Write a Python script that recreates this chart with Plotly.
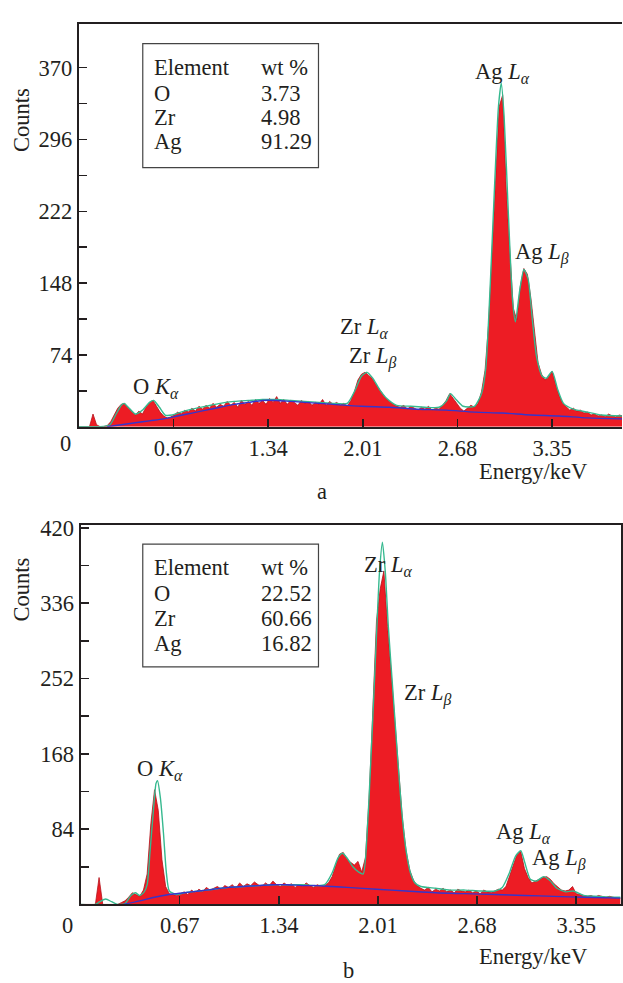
import plotly.graph_objects as go

# ---------------- data ----------------
E_STEP = 0.025  # keV per channel

# panel a: spectrum counts, channel i -> energy i*E_STEP
counts_a = [0, 0, 0, 0, 13, 2, 0, 0, 1, 5, 12, 19, 23, 24, 19, 15, 12, 16, 13, 20,
            25, 27, 21, 15, 11, 9, 10, 12, 15, 13, 17, 15, 19, 16, 21, 18, 22, 19, 24, 20,
            23, 21, 26, 22, 25, 20, 27, 23, 26, 22, 28, 24, 27, 23, 29, 25, 31, 24, 28, 23,
            27, 25, 22, 27, 24, 26, 22, 25, 23, 28, 22, 26, 23, 25, 22, 24, 21, 27, 36, 48,
            54, 56, 53, 50, 44, 39, 33, 29, 26, 23, 21, 20, 22, 18, 21, 19, 17, 20, 18, 21,
            17, 19, 18, 22, 27, 34, 29, 23, 19, 16, 19, 22, 20, 24, 36, 58, 105, 178, 252, 330,
            342, 245, 182, 122, 110, 145, 163, 157, 132, 97, 66, 54, 48, 52, 57, 44, 32, 24, 20, 17,
            19, 16, 17, 14, 15, 12, 13, 11, 12, 10, 13, 11, 10, 12, 11]

fit_a_E = [0.00, 0.15, 0.22, 0.26, 0.30, 0.32, 0.35, 0.40, 0.45, 0.50, 0.53, 0.57, 0.61, 0.66,
           0.70, 0.80, 0.90, 1.00, 1.10, 1.20, 1.30, 1.40, 1.50, 1.60, 1.70, 1.80, 1.90, 1.95,
           2.00, 2.04, 2.08, 2.13, 2.18, 2.25, 2.35, 2.45, 2.55, 2.60, 2.63, 2.67, 2.72, 2.80,
           2.85, 2.88, 2.91, 2.94, 2.97, 2.99, 3.01, 3.04, 3.07, 3.09, 3.12, 3.15, 3.18, 3.21,
           3.24, 3.28, 3.31, 3.35, 3.39, 3.43, 3.50, 3.60, 3.70, 3.85]
fit_a_C = [0, 0, 2, 12, 22, 24, 20, 13, 17, 25, 27, 20, 12, 12,
           14, 18, 21, 24, 26, 27, 28, 28, 27, 26, 25, 24, 24, 36,
           52, 56, 50, 38, 29, 22, 21, 20, 20, 26, 34, 28, 21, 21,
           34, 60, 140, 240, 330, 354, 320, 220, 130, 108, 140, 162, 152, 110,
           72, 52, 50, 57, 38, 24, 18, 15, 12, 11]

bg_a_E = [0.20, 0.30, 0.40, 0.50, 0.60, 0.70, 0.80, 0.90, 1.00, 1.10, 1.20, 1.30, 1.40, 1.50,
          1.60, 1.70, 1.80, 2.00, 2.20, 2.40, 2.60, 2.80, 3.00, 3.20, 3.40, 3.60, 3.85]
bg_a_C = [0, 2, 4, 6, 8, 11, 14, 17, 20, 23, 25, 27, 27, 26,
          25, 24, 23, 21, 20, 18, 17, 15, 14, 12, 11, 9, 8]

# panel b
counts_b = [0, 0, 0, 0, 0, 30, 0, 0, 0, 0, 0, 2, 4, 8, 13, 11, 9, 16, 34, 90,
            128, 105, 50, 20, 12, 11, 10, 12, 14, 11, 16, 13, 17, 14, 19, 16, 18, 20, 17, 21,
            19, 22, 18, 24, 20, 23, 21, 25, 22, 20, 24, 21, 26, 22, 20, 24, 21, 23, 19, 22,
            20, 24, 21, 19, 22, 20, 21, 24, 31, 44, 56, 58, 51, 47, 44, 48, 36, 52, 118, 216,
            316, 352, 372, 310, 255, 203, 142, 96, 60, 38, 27, 21, 18, 16, 19, 14, 17, 15, 18, 14,
            16, 13, 17, 15, 14, 16, 13, 15, 12, 16, 14, 13, 15, 17, 16, 20, 32, 44, 56, 59,
            40, 30, 24, 26, 28, 30, 31, 28, 23, 19, 16, 15, 16, 20, 12, 11, 10, 9, 10, 8,
            10, 9, 8, 9, 8, 7, 7]

fit_b_E = [0.00, 0.10, 0.13, 0.17, 0.21, 0.25, 0.30, 0.34, 0.37, 0.40, 0.43, 0.45, 0.47, 0.49,
           0.51, 0.52, 0.54, 0.56, 0.58, 0.60, 0.65, 0.70, 0.80, 0.90, 1.00, 1.10, 1.20, 1.30,
           1.40, 1.50, 1.60, 1.65, 1.70, 1.74, 1.77, 1.80, 1.84, 1.88, 1.91, 1.94, 1.97, 2.00,
           2.02, 2.04, 2.06, 2.08, 2.11, 2.14, 2.17, 2.20, 2.23, 2.26, 2.30, 2.40, 2.50, 2.60,
           2.70, 2.80, 2.85, 2.90, 2.94, 2.975, 3.00, 3.04, 3.08, 3.13, 3.17, 3.22, 3.28, 3.33,
           3.40, 3.50, 3.60, 3.65]
fit_b_C = [0, 0, 3, 6, 3, 0, 1, 10, 13, 10, 14, 22, 60, 100,
           135, 138, 118, 80, 35, 15, 11, 13, 15, 17, 19, 20, 21, 22,
           22, 22, 21, 22, 35, 52, 57, 52, 42, 36, 34, 90, 190, 300,
           370, 404, 370, 310, 240, 170, 105, 60, 35, 24, 20, 18, 16, 16,
           15, 15, 19, 36, 54, 60, 48, 28, 26, 31, 27, 18, 14, 15,
           10, 9, 8, 8]

bg_b_E = [0.29, 0.40, 0.50, 0.60, 0.70, 0.80, 0.90, 1.00, 1.10, 1.20, 1.30, 1.40, 1.50, 1.60,
          1.70, 1.80, 2.00, 2.20, 2.40, 2.60, 2.80, 3.00, 3.20, 3.40, 3.65]
bg_b_C = [0, 4, 8, 11, 13, 15, 17, 19, 20, 21, 22, 22, 21, 21,
          20, 19, 17, 15, 13, 12, 11, 10, 9, 8, 7]

ticks_a = [0.67, 1.34, 2.01, 2.68, 3.35]
ticks_b = [0.67, 1.34, 2.01, 2.68, 3.35]
yticks_a = [74, 148, 222, 296, 370]
yminor_a = [37, 111, 185, 259, 333]
yticks_b = [84, 168, 252, 336, 420]
yminor_b = [42, 126, 210, 294, 378]

table_a = [("Element", "wt %"), ("O", "3.73"), ("Zr", "4.98"), ("Ag", "91.29")]
table_b = [("Element", "wt %"), ("O", "22.52"), ("Zr", "60.66"), ("Ag", "16.82")]

# ---------------- figure ----------------
W, H = 623, 983
FONT = "Liberation Serif, Times New Roman, serif"
FS = 22.5
INK = "#231f20"
RED = "#ED1C24"
GREEN = "#36B98F"
BLUE = "#3535CC"


def px(x):
    return x / W


def py(y):
    return 1 - y / H


energies_a = [round(i * E_STEP, 4) for i in range(len(counts_a))]
energies_b = [round(i * E_STEP, 4) for i in range(len(counts_b))]

fig = go.Figure()

for (ex, cy, fx, fy, bx, by, xa, ya) in [
    (energies_a, counts_a, fit_a_E, fit_a_C, bg_a_E, bg_a_C, "x", "y"),
    (energies_b, counts_b, fit_b_E, fit_b_C, bg_b_E, bg_b_C, "x2", "y2"),
]:
    fig.add_trace(go.Scatter(x=ex, y=cy, mode="lines", fill="tozeroy", fillcolor=RED,
                             line=dict(color="#B5121B", width=0.8), xaxis=xa, yaxis=ya,
                             showlegend=False, hoverinfo="skip"))
    fig.add_trace(go.Scatter(x=fx, y=fy, mode="lines",
                             line=dict(color=GREEN, width=1.4, shape="spline", smoothing=0.6),
                             xaxis=xa, yaxis=ya, showlegend=False, hoverinfo="skip"))
    fig.add_trace(go.Scatter(x=bx, y=by, mode="lines",
                             line=dict(color=BLUE, width=1.4, shape="spline", smoothing=0.8),
                             xaxis=xa, yaxis=ya, showlegend=False, hoverinfo="skip"))

axis_common = dict(showgrid=False, zeroline=False, showline=True, linecolor=INK, linewidth=2,
                   ticks="inside", ticklen=8, tickwidth=1.5, tickcolor=INK,
                   tickfont=dict(family=FONT, size=FS, color=INK))

# panel a: plot area x 79..623, y 15..421.5
fig.update_layout(
    xaxis=dict(domain=[px(79), 1.0], range=[0, (623 - 79) / 141.5], tickvals=ticks_a,
               ticktext=[f"{v:.2f}" for v in ticks_a], mirror=True, anchor="y",
               **axis_common),
    yaxis=dict(domain=[py(421.5), py(15)], range=[0, (421.5 - 15) / 0.979], tickvals=yticks_a,
               ticktext=[str(v) for v in yticks_a], anchor="x",
               minor=dict(tickvals=yminor_a, ticks="inside", ticklen=8, tickwidth=1.5,
                          tickcolor=INK),
               **axis_common),
    xaxis2=dict(domain=[px(80.7), px(621.5)], range=[0, (621.5 - 80.7) / 148.2],
                tickvals=ticks_b, ticktext=[f"{v:.2f}" for v in ticks_b], mirror=True,
                anchor="y2", **axis_common),
    yaxis2=dict(domain=[py(903.7), py(520.7)], range=[0, (903.7 - 520.7) / 0.9048],
                tickvals=yticks_b, ticktext=[str(v) for v in yticks_b], mirror=True,
                anchor="x2",
                minor=dict(tickvals=yminor_b, ticks="inside", ticklen=8, tickwidth=1.5,
                           tickcolor=INK),
                **axis_common),
)

ann = []


def text(x, y, s, size=FS, xanchor="center", angle=0):
    ann.append(dict(x=px(x), y=py(y), xref="paper", yref="paper", text=s, showarrow=False,
                    xanchor=xanchor, yanchor="middle", textangle=angle,
                    font=dict(family=FONT, size=size, color=INK)))


# axis titles and panel letters
text(22, 112, "Counts", angle=-90)
text(22, 586, "Counts", angle=-90)
text(534, 467, "Energy/keV")
text(534, 956, "Energy/keV")
text(323, 487, "a")
text(349, 970, "b")
text(66, 439, "0")
text(68, 925, "0")

# tables
shapes = []
for (tbl, top, bottom, rows_y) in [
    (table_a, 35, 160, [59, 85, 110, 134]),
    (table_b, 540, 664, [564, 590, 615, 640]),
]:
    shapes.append(dict(type="rect", xref="paper", yref="paper", x0=px(143), x1=px(319),
                       y0=py(bottom), y1=py(top), line=dict(color="#444", width=1.2),
                       fillcolor="white"))
    for (c1, c2), yy in zip(tbl, rows_y):
        text(152, yy, c1, xanchor="left")
        text(259, yy, c2, xanchor="left")


# peak labels
def lab(el, line, greek):
    return f"{el} <i>{line}</i><sub><i>{greek}</i></sub>"


text(156, 382, lab("O", "K", "α"))
text(503, 65, lab("Ag", "L", "α"))
text(543, 247, lab("Ag", "L", "β"))
text(365, 322, lab("Zr", "L", "α"))
text(373, 352, lab("Zr", "L", "β"))

text(160, 768, lab("O", "K", "α"))
text(389, 562, lab("Zr", "L", "α"))
text(428, 692, lab("Zr", "L", "β"))
text(524, 832, lab("Ag", "L", "α"))
text(560, 858, lab("Ag", "L", "β"))

fig.update_layout(width=W, height=H, margin=dict(l=0, r=0, t=0, b=0),
                  paper_bgcolor="white", plot_bgcolor="white",
                  annotations=ann, shapes=shapes)

fig.write_html("out.html",
               config={"displayModeBar": False, "staticPlot": True},
               post_script="document.body.style.margin='0';"
                           "document.body.style.overflow='hidden';")
